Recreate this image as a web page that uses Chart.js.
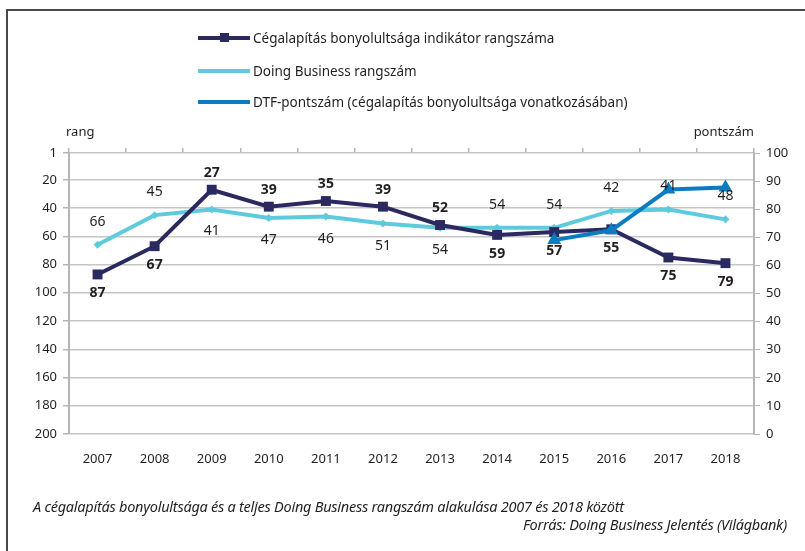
<!DOCTYPE html>
<html>
<head>
<meta charset="utf-8">
<script src="https://cdn.jsdelivr.net/npm/chart.js@4"></script>
<style>
  body { margin: 0; background: #fff; font-family: "Noto Sans", sans-serif; color: #222; }
  #wrap { position: relative; width: 805px; height: 551px; overflow: hidden; }
  #frame { position: absolute; left: 6px; top: 9px; width: 820px; height: 560px; border-left: 2px solid #4a4a4a; border-top: 2px solid #4a4a4a; }
  canvas { position: absolute; left: 0; top: 0; }
  .leg { position: absolute; left: 198px; height: 20px; display: flex; align-items: center; font-size: 13.5px; color: #231f20; }
  .leg .sample { position: relative; width: 52px; height: 4px; margin-right: 3px; }
  .leg .mark { position: absolute; left: 22px; top: -3px; width: 9px; height: 9px; }
  .axtitle { position: absolute; top: 122px; font-size: 13px; color: #231f20; }
  .cap { position: absolute; font-size: 14.5px; font-style: italic; color: #231f20; letter-spacing: -0.25px; }
</style>
</head>
<body>
<div id="wrap">
  <div id="frame"></div>
  <canvas id="chart" width="805" height="551"></canvas>
  <div class="leg" style="top:28px"><span class="sample" style="background:#2a2960"><span class="mark" style="background:#2a2960"></span></span>Cégalapítás bonyolultsága indikátor rangszáma</div>
  <div class="leg" style="top:61px"><span class="sample" style="background:#5ecbdd"></span>Doing Business rangszám</div>
  <div class="leg" style="top:92px"><span class="sample" style="background:#0b7cc1"></span>DTF-pontszám (cégalapítás bonyolultsága vonatkozásában)</div>
  <div class="axtitle" style="left:66px">rang</div>
  <div class="axtitle" style="right:51px">pontszám</div>
  <div class="cap" style="left:33px; top:496px">A cégalapítás bonyolultsága és a teljes Doing Business rangszám alakulása 2007 és 2018 között</div>
  <div class="cap" style="right:18px; top:514px">Forrás: Doing Business Jelentés (Világbank)</div>
</div>
<script>
// --- Data ---
const years = ['2007','2008','2009','2010','2011','2012','2013','2014','2015','2016','2017','2018'];
const cegRank = [87, 67, 27, 39, 35, 39, 52, 59, 57, 55, 75, 79];
const dbRank = [66, 45, 41, 47, 46, 51, 54, 54, 54, 42, 41, 48];
const dtfScore = [null, null, null, null, null, null, null, null, 69, 72.5, 87, 87.7];
const rankTicks = [1, 20, 40, 60, 80, 100, 120, 140, 160, 180, 200];

// label placement: 1 = above the point, -1 = below
const cegLabelSide = [-1, -1, 1, 1, 1, 1, 1, -1, -1, -1, -1, -1];
const dbLabelSide = [1, 1, -1, -1, -1, -1, -1, 1, 1, 1, 1, 1];

const NAVY = '#2a2960';
const LIGHT = '#5ecbdd';
const BLUE = '#0b7cc1';
const GRID = '#c6c6c6';
const AXIS = '#b5b5b5';

// simple value labels drawn next to the points
const valueLabels = {
  id: 'valueLabels',
  afterDatasetsDraw(chart) {
    const ctx = chart.ctx;
    const sets = [
      { idx: 1, values: cegRank, side: cegLabelSide, font: 'bold 14px "Noto Sans"', up: 17, down: 19 },
      { idx: 2, values: dbRank, side: dbLabelSide, font: '14px "Noto Sans"', up: 23, down: 22 }
    ];
    ctx.save();
    ctx.textAlign = 'center';
    ctx.textBaseline = 'middle';
    ctx.fillStyle = '#231f20';
    sets.forEach(s => {
      const meta = chart.getDatasetMeta(s.idx);
      meta.data.forEach((pt, i) => {
        ctx.font = s.font;
        const dy = s.side[i] > 0 ? -s.up : s.down;
        ctx.fillText(String(s.values[i]), pt.x, pt.y + dy);
      });
    });
    ctx.restore();
  }
};

new Chart(document.getElementById('chart'), {
  type: 'line',
  data: {
    labels: years,
    datasets: [
      {
        label: 'DTF-pontszám (cégalapítás bonyolultsága vonatkozásában)',
        data: dtfScore,
        yAxisID: 'y2',
        borderColor: BLUE,
        backgroundColor: BLUE,
        borderWidth: 4,
        pointStyle: 'triangle',
        pointRadius: 8,
        pointBorderWidth: 0,
        order: 0
      },
      {
        label: 'Cégalapítás bonyolultsága indikátor rangszáma',
        data: cegRank,
        yAxisID: 'y',
        borderColor: NAVY,
        backgroundColor: NAVY,
        borderWidth: 4,
        pointStyle: 'rect',
        pointRadius: 7,
        pointBorderWidth: 0,
        order: 1
      },
      {
        label: 'Doing Business rangszám',
        data: dbRank,
        yAxisID: 'y',
        borderColor: LIGHT,
        backgroundColor: LIGHT,
        borderWidth: 4,
        pointStyle: 'rectRot',
        pointRadius: 4,
        pointBorderWidth: 0,
        order: 2
      }
    ]
  },
  options: {
    responsive: false,
    devicePixelRatio: 1,
    animation: false,
    layout: { padding: { top: 148, bottom: 87, left: 0, right: 0 } },
    plugins: { legend: { display: false }, tooltip: { enabled: false } },
    elements: { line: { tension: 0 } },
    scales: {
      x: {
        position: 'bottom',
        offset: true,
        grid: { display: false },
        border: { display: false },
        ticks: { color: '#231f20', font: { family: 'Noto Sans', size: 13 }, padding: 9, maxRotation: 0 },
        afterFit: s => { s.height = 30; }
      },
      xTop: {
        position: 'top',
        offset: true,
        grid: { offset: true, drawOnChartArea: false, tickLength: 5, color: AXIS, lineWidth: 1.5 },
        border: { display: false },
        ticks: { display: false },
        afterFit: s => { s.height = 5; }
      },
      y: {
        position: 'left',
        reverse: true,
        min: 1,
        max: 200,
        afterBuildTicks: s => { s.ticks = rankTicks.map(v => ({ value: v })); },
        grid: { color: GRID, lineWidth: 1.5, tickLength: 6, tickColor: AXIS },
        border: { color: AXIS, width: 2 },
        ticks: { color: '#231f20', font: { family: 'Noto Sans', size: 13 }, padding: 6 },
        afterFit: s => { s.width = 69; }
      },
      y2: {
        position: 'right',
        min: 0,
        max: 100,
        ticks: { stepSize: 10, color: '#231f20', font: { family: 'Noto Sans', size: 13 }, padding: 6 },
        grid: { drawOnChartArea: false, tickLength: 6, color: AXIS },
        border: { color: AXIS, width: 2 },
        afterFit: s => { s.width = 51; }
      }
    }
  },
  plugins: [valueLabels]
});
</script>
</body>
</html>
